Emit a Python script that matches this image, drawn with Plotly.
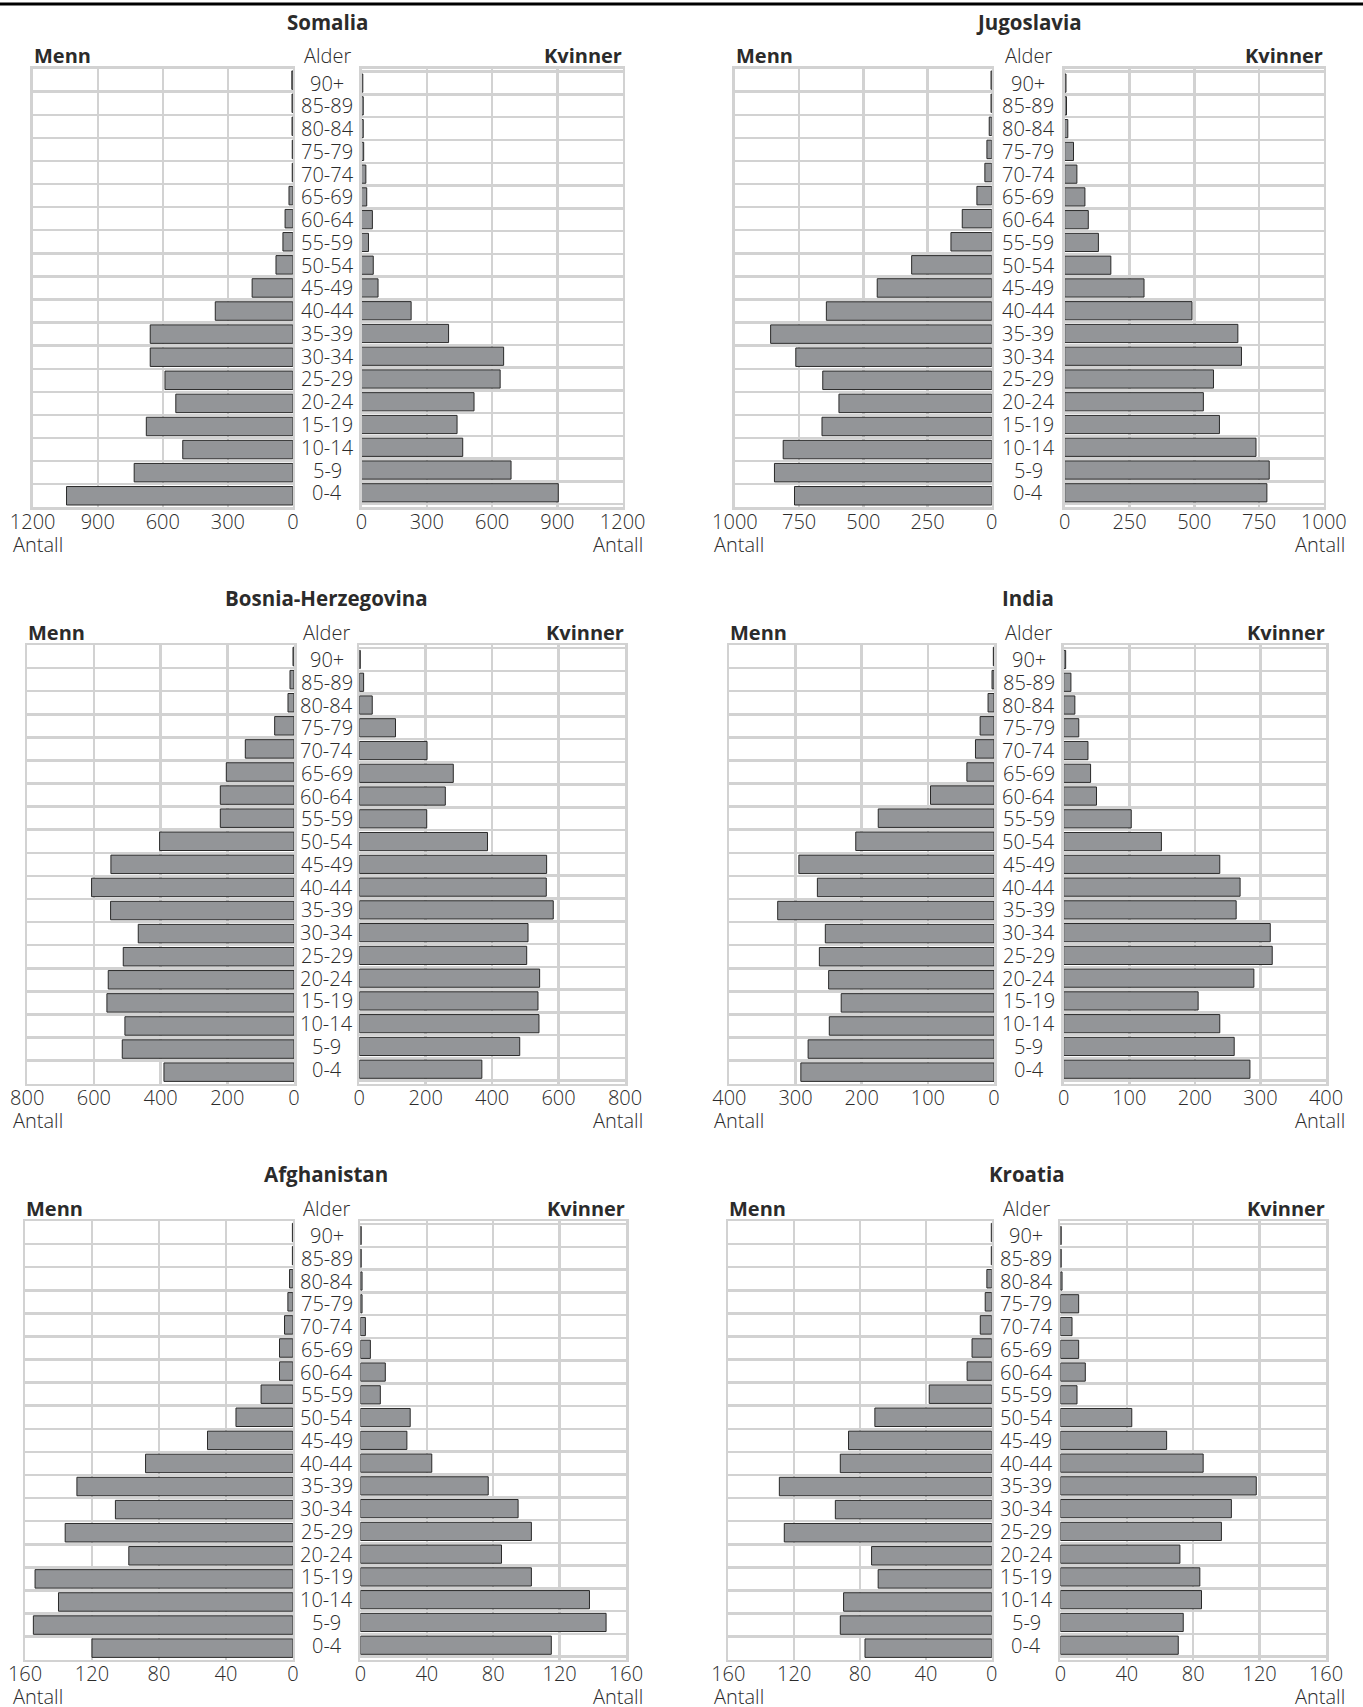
import plotly.graph_objects as go

W, H = 1363, 1707

ages = ["0-4", "5-9", "10-14", "15-19", "20-24", "25-29", "30-34", "35-39", "40-44",
        "45-49", "50-54", "55-59", "60-64", "65-69", "70-74", "75-79", "80-84", "85-89", "90+"]

somalia_men = [1044, 732, 508, 676, 540, 590, 658, 658, 358, 188, 78, 46, 36, 18, 3, 3, 4, 4, 5]
somalia_women = [904, 687, 465, 439, 517, 637, 653, 400, 228, 76, 54, 32, 50, 24, 20, 10, 8, 8, 6]

jugoslavia_men = [768, 846, 812, 661, 595, 658, 763, 861, 644, 446, 312, 159, 115, 58, 27, 19, 10, 3, 3]
jugoslavia_women = [780, 789, 738, 597, 535, 574, 682, 668, 491, 306, 178, 130, 91, 78, 47, 34, 12, 7, 5]

bosnia_men = [390, 515, 507, 561, 557, 512, 467, 550, 607, 549, 403, 221, 221, 203, 146, 58, 18, 12, 3]
bosnia_women = [369, 483, 541, 538, 543, 504, 508, 584, 563, 564, 386, 203, 259, 283, 204, 109, 39, 13, 3]

india_men = [292, 281, 249, 231, 250, 264, 255, 327, 267, 295, 209, 175, 96, 41, 28, 21, 9, 3, 1]
india_women = [284, 260, 238, 205, 290, 318, 315, 263, 269, 238, 149, 103, 50, 41, 37, 23, 17, 11, 3]

afghanistan_men = [120, 155, 140, 154, 98, 136, 106, 129, 88, 51, 34, 19, 8, 8, 5, 3, 2, 0.3, 0.3]
afghanistan_women = [115, 148, 138, 103, 85, 103, 95, 77, 43, 28, 30, 12, 15, 6, 3, 1, 1, 0.5, 0.5]

kroatia_men = [77, 92, 90, 69, 73, 126, 95, 129, 92, 87, 71, 38, 15, 12, 7, 4, 3, 0.3, 0.3]
kroatia_women = [71, 74, 85, 84, 72, 97, 103, 118, 86, 64, 43, 10, 15, 11, 7, 11, 1, 0.5, 0.5]

titles = ["Somalia", "Jugoslavia", "Bosnia-Herzegovina", "India", "Afghanistan", "Kroatia"]
men_data = [somalia_men, jugoslavia_men, bosnia_men, india_men, afghanistan_men, kroatia_men]
women_data = [somalia_women, jugoslavia_women, bosnia_women, india_women, afghanistan_women, kroatia_women]
axis_max = [1200, 1000, 800, 400, 160, 160]
axis_step = [300, 250, 200, 100, 40, 40]

# layout (pixel positions)
left_dom = [(32.7, 292.9), (734.9, 991.8), (27.2, 294.0), (729.4, 994.0), (25.0, 292.9), (728.3, 991.8)]
right_dom = [(361.5, 622.7), (1064.7, 1323.9), (359.3, 625.0), (1063.7, 1326.0), (360.4, 626.0), (1060.4, 1326.0)]
row_tops = [68.6, 645.0, 1221.0]
row_h = 438.7
antall_left = [12, 713]
antall_right = [643.5, 1345.5]

FONT = "Open Sans"
TXT = "#2b2b2b"
GRID = "#d2d2d2"
BAR = "#939598"
EDGE = "#2a2a2a"

def px(x):
    return x / W

def py(y):
    return 1 - y / H

fig = go.Figure()
layout = {}
annotations = []

def txtfont(size, weight=None):
    d = dict(family=FONT, size=size, color=TXT)
    if weight is not None:
        d["weight"] = weight
    return d

for i in range(6):
    row, col = divmod(i, 2)
    top = row_tops[row]
    bot = top + row_h
    ydom = [py(bot), py(top)]
    for side in range(2):
        k = 2 * i + side + 1
        xa = f"x{k}" if k > 1 else "x"
        ya = f"y{k}" if k > 1 else "y"
        dom = left_dom[i] if side == 0 else right_dom[i]
        vals = men_data[i] if side == 0 else women_data[i]
        fig.add_trace(go.Bar(
            x=vals, y=ages, orientation="h", xaxis=xa, yaxis=ya,
            marker=dict(color=BAR, line=dict(color=EDGE, width=1)),
            showlegend=False, hoverinfo="skip"))
        tv = list(range(0, axis_max[i] + 1, axis_step[i]))
        xkey = "xaxis" if k == 1 else f"xaxis{k}"
        ykey = "yaxis" if k == 1 else f"yaxis{k}"
        layout[xkey] = dict(
            domain=[px(dom[0]), px(dom[1])], anchor=ya, automargin=False,
            range=[axis_max[i], 0] if side == 0 else [0, axis_max[i]],
            tickmode="array", tickvals=tv, ticktext=[str(v) for v in tv],
            showgrid=True, gridcolor=GRID, gridwidth=2.5,
            showline=True, linecolor=GRID, linewidth=2.5, mirror=True,
            zeroline=False, ticks="", ticklabelstandoff=-5,
            tickfont=txtfont(20, 300), fixedrange=True)
        layout[ykey] = dict(
            domain=ydom, anchor=xa, type="category", automargin=False,
            categoryorder="array", categoryarray=ages,
            tickson="boundaries", showgrid=True, gridcolor=GRID, gridwidth=2.5,
            showline=True, linecolor=GRID, linewidth=2.5, mirror=True,
            showticklabels=False, ticks="", zeroline=False, fixedrange=True)
    # age labels between the two halves
    cx = (left_dom[i][1] + right_dom[i][0]) / 2
    yref_r = f"y{2 * i + 2}"
    for a in ages:
        annotations.append(dict(
            x=px(cx), xref="paper", y=a, yref=yref_r, text=a, showarrow=False,
            xanchor="center", yanchor="middle", borderpad=0,
            font=txtfont(20, 300)))
    pcx = (left_dom[i][0] + right_dom[i][1]) / 2
    annotations.append(dict(x=px(pcx), y=py(top - 47), xref="paper", yref="paper",
                            text=f"<b>{titles[i]}</b>", showarrow=False,
                            xanchor="center", yanchor="middle", font=txtfont(20.5)))
    annotations.append(dict(x=px(left_dom[i][0] - 1), y=py(top - 13), xref="paper", yref="paper",
                            text="<b>Menn</b>", showarrow=False,
                            xanchor="left", yanchor="middle", font=txtfont(20)))
    annotations.append(dict(x=px(right_dom[i][1] + 1), y=py(top - 13), xref="paper", yref="paper",
                            text="<b>Kvinner</b>", showarrow=False,
                            xanchor="right", yanchor="middle", font=txtfont(20)))
    annotations.append(dict(x=px(cx), y=py(top - 13), xref="paper", yref="paper",
                            text="Alder", showarrow=False,
                            xanchor="center", yanchor="middle", font=txtfont(20, 300)))
    annotations.append(dict(x=px(antall_left[col]), y=py(bot + 37), xref="paper", yref="paper",
                            text="Antall", showarrow=False, borderpad=0,
                            xanchor="left", yanchor="middle", font=txtfont(20, 300)))
    annotations.append(dict(x=px(antall_right[col]), y=py(bot + 37), xref="paper", yref="paper",
                            text="Antall", showarrow=False, borderpad=0,
                            xanchor="right", yanchor="middle", font=txtfont(20, 300)))

shapes = [dict(type="line", xref="paper", yref="paper", x0=0, x1=1,
               y0=py(4), y1=py(4), line=dict(color="#000000", width=3))]

fig.update_layout(
    template="none",
    width=W, height=H, margin=dict(l=0, r=0, t=0, b=0, pad=0), autosize=False,
    paper_bgcolor="white", plot_bgcolor="white",
    bargap=0.2, annotations=annotations, shapes=shapes, hovermode=False,
    font=dict(family=FONT, color=TXT), **layout)

fig.write_html("out.html", config={"responsive": False, "displayModeBar": False, "staticPlot": True},
               post_script="document.body.style.margin='0px';document.body.style.overflow='hidden';")
